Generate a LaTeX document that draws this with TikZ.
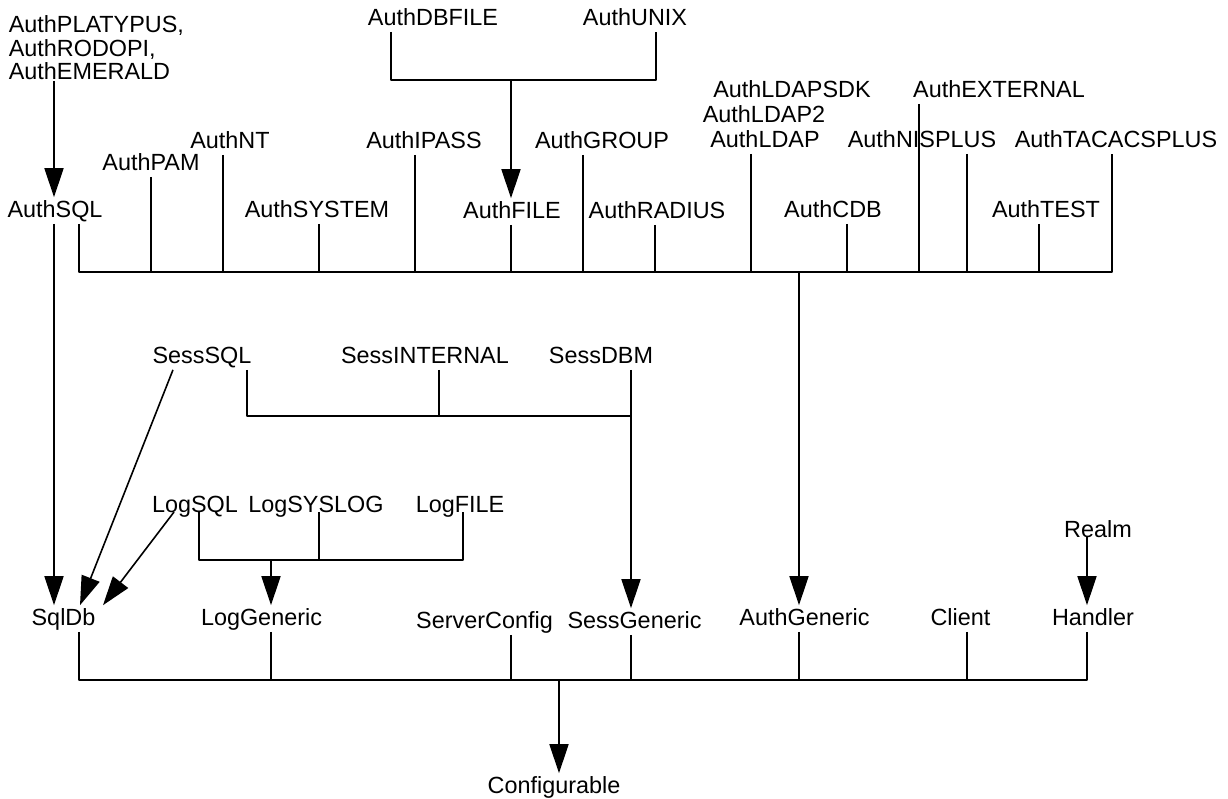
\documentclass[tikz,border=0pt]{standalone}
\usepackage{fontspec}
\setmainfont{Liberation Sans}
\usetikzlibrary{arrows.meta}
\tikzset{
  cls/.style={inner sep=0pt, anchor=base, text height=9.5pt, text depth=3pt},
  inh/.style={-{Triangle[length=14.5pt, width=9.5pt]}},
}
\begin{document}
\begin{tikzpicture}[x=0.5pt, y=-0.5pt, line width=0.8pt, line join=round, font=\fontsize{11.7}{11.75}\selectfont]
	\useasboundingbox (0,0) rectangle (1228,799);
	% auth modules
	\node[inner sep=0pt, anchor=north west, align=left] (platypus) at (8,15) {AuthPLATYPUS,\\AuthRODOPI,\\AuthEMERALD};
	\node[cls] (dbfile) at (433,25) {AuthDBFILE};
	\node[cls] (unix) at (635,25) {AuthUNIX};
	\node[cls] (ldapsdk) at (792,97) {AuthLDAPSDK};
	\node[cls] (external) at (999,97) {AuthEXTERNAL};
	\node[cls] (ldap2) at (764,122) {AuthLDAP2};
	\node[cls] (nt) at (230,148) {AuthNT};
	\node[cls] (ipass) at (424,148) {AuthIPASS};
	\node[cls] (group) at (602,148) {AuthGROUP};
	\node[cls] (ldap) at (765,147) {AuthLDAP};
	\node[cls] (nisplus) at (922,147) {AuthNISPLUS};
	\node[cls] (tacacs) at (1116,147) {AuthTACACSPLUS};
	\node[cls] (pam) at (151,170) {AuthPAM};
	\node[cls] (authsql) at (55,217) {AuthSQL};
	\node[cls] (system) at (317,217) {AuthSYSTEM};
	\node[cls] (file) at (512,218) {AuthFILE};
	\node[cls] (radius) at (657,218) {AuthRADIUS};
	\node[cls] (cdb) at (833,217) {AuthCDB};
	\node[cls] (test) at (1046,217) {AuthTEST};
	% session and log modules
	\node[cls] (sesssql) at (202,363) {SessSQL};
	\node[cls] (sessinternal) at (425,363) {SessINTERNAL};
	\node[cls] (sessdbm) at (601,363) {SessDBM};
	\node[cls] (logsql) at (195,512) {LogSQL};
	\node[cls] (logsyslog) at (316,512) {LogSYSLOG};
	\node[cls] (logfile) at (460,512) {LogFILE};
	\node[cls] (realm) at (1098,537) {Realm};
	% base classes
	\node[cls] (sqldb) at (63.5,625) {SqlDb};
	\node[cls] (loggeneric) at (261.5,625) {LogGeneric};
	\node[cls] (serverconfig) at (484.5,628) {ServerConfig};
	\node[cls] (sessgeneric) at (634.5,628) {SessGeneric};
	\node[cls] (authgeneric) at (804.5,625) {AuthGeneric};
	\node[cls] (client) at (960.5,625) {Client};
	\node[cls] (handler) at (1093,625) {Handler};
	\node[cls] (configurable) at (554,793) {Configurable};

	\draw (dbfile.south -| 391,0) -- (391,80) -- (656,80) -- (unix.south -| 656,0);
	\draw[inh] (511,80) -- (file.north -| 511,0);
	\draw[inh] (platypus.south -| 54,0) -- (authsql.north -| 54,0);
	\draw (authsql.south -| 79,0) -- (79,272) -- (1112,272) -- (tacacs.south -| 1112,0);
	\foreach \n/\x in {pam/151, nt/223, system/319, ipass/415, file/511, group/583, radius/655, ldap/751, cdb/847, external/919, nisplus/967, test/1039}
	\draw (\n.south -| \x,0) -- (\x,272);
	\draw[inh] (799,272) -- (authgeneric.north -| 799,0);
	\draw[inh] (authsql.south -| 54,0) -- (sqldb.north -| 54,0);

	\draw (sesssql.south -| 247,0) -- (247,416) -- (631,416);
	\draw (sessinternal.south -| 439,0) -- (439,416);
	\draw[inh] (sessdbm.south -| 631,0) -- (sessgeneric.north -| 631,0);
	\draw[inh] (sesssql.south -| 173,0) -- (sqldb.north -| 80,0);

	\draw (logsql.base -| 199,0) -- (199,560) -- (463,560) -- (logfile.base -| 463,0);
	\draw (logsyslog.base -| 319,0) -- (319,560);
	\draw[inh] (271,560) -- (loggeneric.north -| 271,0);
	\draw[inh] (logsql.base -| 174,0) -- (sqldb.north -| 103,0);

	\draw[inh] (realm.base -| 1087,0) -- (handler.north -| 1087,0);
	\draw (sqldb.south -| 79,0) -- (79,680) -- (1087,680) -- (handler.south -| 1087,0);
	\foreach \n/\x in {loggeneric/271, serverconfig/511, sessgeneric/631, authgeneric/799, client/967}
	\draw (\n.south -| \x,0) -- (\x,680);
	\draw[inh] (559,680) -- (configurable.north -| 559,0);
\end{tikzpicture}
\end{document}
